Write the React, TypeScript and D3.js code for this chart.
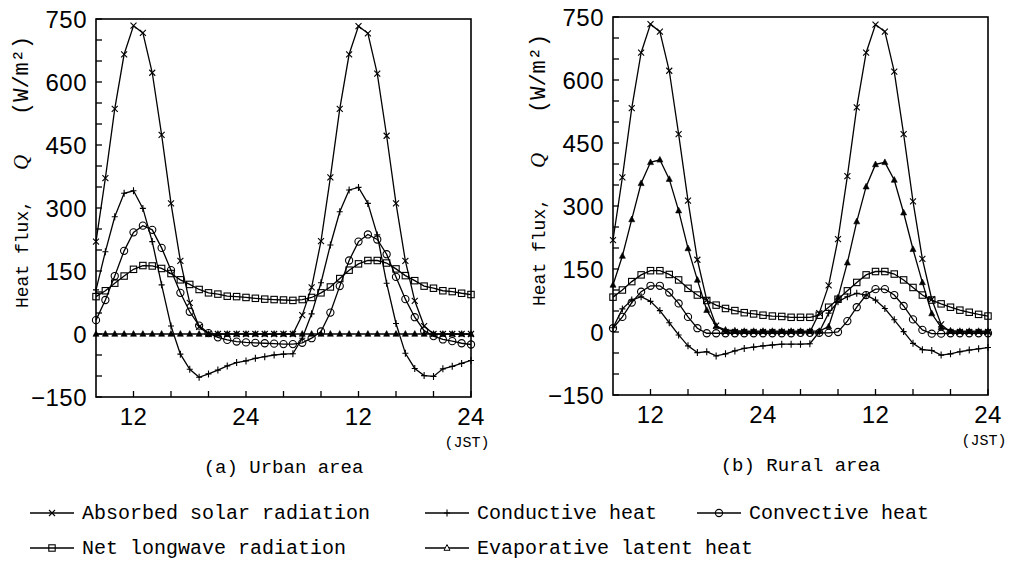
import React from 'react';
import * as d3 from 'd3';

// hourly samples, 8 h of day 1 to 24 h of day 2 (JST)
const hours = [
  8, 9, 10, 11, 12, 13, 14, 15, 16, 17, 18, 19, 20, 21, 22, 23, 24, 25, 26, 27,
  28, 29, 30, 31, 32, 33, 34, 35, 36, 37, 38, 39, 40, 41, 42, 43, 44, 45, 46, 47, 48,
];
const xTicks = [12, 16, 20, 24, 28, 32, 36, 40, 44, 48];
const xTickLabels: Record<number, string> = { 12: '12', 24: '24', 36: '12', 48: '24' };
const yTicks = [-150, -100, -50, 0, 50, 100, 150, 200, 250, 300, 350, 400, 450, 500, 550, 600, 650, 700, 750];
const yTickLabels = [-150, 0, 150, 300, 450, 600, 750];

// (a) urban area
const urbanSolar = [
  220, 371, 536, 666, 734, 717, 622, 474, 311, 174, 74, 17, 0, 0, 0, 0, 0, 0, 0, 0,
  0, 0, 45, 111, 221, 373, 536, 666, 733, 716, 620, 472, 311, 174, 79, 19, 0, 0, 0, 0, 0,
];
const urbanConductive = [
  105, 196, 279, 335, 341, 299, 220, 117, 19, -48, -84, -103, -95, -86, -76, -68, -64, -58, -54, -50,
  -48, -47, -10, 48, 122, 212, 291, 343, 349, 311, 236, 121, 25, -46, -82, -99, -101, -83, -77, -70, -63,
];
const urbanConvective = [
  33, 81, 138, 198, 242, 258, 248, 205, 152, 98, 53, 20, 2, -8, -14, -18, -20, -21, -22, -23,
  -24, -24, -21, -10, 6, 51, 114, 175, 220, 237, 225, 190, 136, 83, 40, 8, -5, -13, -17, -22, -25,
];
const urbanLongwave = [
  89, 103, 121, 138, 154, 163, 162, 156, 144, 129, 118, 106, 98, 95, 90, 89, 87, 85, 83, 82,
  81, 80, 82, 87, 98, 112, 132, 152, 167, 175, 175, 169, 155, 139, 127, 114, 109, 103, 101, 97, 94,
];
const urbanEvaporative = [
  0, 0, 0, 0, 0, 0, 0, 0, 0, 0, 0, 0, 0, 0, 0, 0, 0, 0, 0, 0,
  0, 0, 0, 0, 0, 0, 0, 0, 0, 0, 0, 0, 0, 0, 0, 0, 0, 0, 0, 0, 0,
];

// (b) rural area
const ruralSolar = [
  219, 368, 533, 665, 733, 715, 622, 471, 313, 172, 76, 15, 0, 0, 0, 0, 0, 0, 0, 0,
  0, 0, 45, 111, 221, 371, 535, 665, 732, 715, 620, 471, 311, 174, 78, 18, 0, 0, 0, 0, 0,
];
const ruralConductive = [
  10, 55, 76, 84, 73, 51, 22, -7, -33, -49, -47, -57, -52, -45, -39, -36, -33, -31, -29, -29,
  -29, -28, 0, 45, 72, 84, 92, 88, 76, 56, 29, 1, -27, -42, -44, -55, -52, -47, -43, -40, -37,
];
const ruralConvective = [
  9, 36, 70, 96, 110, 110, 94, 68, 36, 9, -3, -3, -3, -3, -3, -3, -3, -3, -3, -3,
  -2, -2, -2, -2, 0, 26, 59, 88, 102, 102, 88, 62, 30, 5, -4, -4, -3, -3, -3, -3, -3,
];
const ruralLongwave = [
  83, 100, 120, 136, 146, 146, 137, 124, 104, 88, 75, 64, 56, 51, 46, 43, 40, 38, 37, 35,
  35, 35, 40, 59, 78, 98, 118, 136, 144, 144, 138, 124, 106, 88, 76, 67, 59, 52, 47, 42, 38,
];
const ruralEvaporative = [
  112, 181, 268, 354, 404, 410, 364, 289, 199, 124, 52, 14, 5, 3, 2, 2, 2, 2, 2, 2,
  2, 2, 2, 13, 82, 165, 263, 346, 399, 404, 362, 284, 197, 118, 44, 11, 3, 2, 2, 2, 2,
];

type MarkerType = 'cross' | 'plus' | 'circle' | 'square' | 'triangle';

const seriesInfo: { key: string; label: string; marker: MarkerType }[] = [
  { key: 'solar', label: 'Absorbed solar radiation', marker: 'cross' },
  { key: 'conductive', label: 'Conductive heat', marker: 'plus' },
  { key: 'convective', label: 'Convective heat', marker: 'circle' },
  { key: 'longwave', label: 'Net longwave radiation', marker: 'square' },
  { key: 'evaporative', label: 'Evaporative latent heat', marker: 'triangle' },
];

const urban: Record<string, number[]> = {
  solar: urbanSolar, conductive: urbanConductive, convective: urbanConvective,
  longwave: urbanLongwave, evaporative: urbanEvaporative,
};
const rural: Record<string, number[]> = {
  solar: ruralSolar, conductive: ruralConductive, convective: ruralConvective,
  longwave: ruralLongwave, evaporative: ruralEvaporative,
};

const MONO = '"Liberation Mono", "DejaVu Sans Mono", monospace';
const SANS = '"Liberation Sans", Arial, sans-serif';
const W = 375;
const H = 378;

function Marker({ type, cx, cy, hollow }: { type: MarkerType; cx: number; cy: number; hollow?: boolean }) {
  const s = { stroke: '#000', strokeWidth: 1.1 };
  switch (type) {
    case 'cross':
      return <path d={`M${cx - 3},${cy - 3}L${cx + 3},${cy + 3}M${cx - 3},${cy + 3}L${cx + 3},${cy - 3}`} fill="none" {...s} />;
    case 'plus':
      return <path d={`M${cx},${cy - 3.5}V${cy + 3.5}M${cx - 3},${cy}H${cx + 3}`} fill="none" {...s} />;
    case 'circle':
      return <circle cx={cx} cy={cy} r={3.6} fill="none" {...s} />;
    case 'square':
      return <rect x={cx - 3.2} y={cy - 3.2} width={6.4} height={6.4} fill="none" {...s} />;
    default:
      return (
        <path d={`M${cx},${cy - 3.4}L${cx + 3},${cy + 2.3}L${cx - 3},${cy + 2.3}Z`}
          fill={hollow ? '#fff' : '#000'} stroke="#000" strokeWidth={hollow ? 1 : 0.6} />
      );
  }
}

function Panel({ left, top, data, caption }: { left: number; top: number; data: Record<string, number[]>; caption: string }) {
  const x = d3.scaleLinear().domain([8, 48]).range([0, W]);
  const y = d3.scaleLinear().domain([-150, 750]).range([H, 0]);
  const line = d3.line<number>().x((_, i) => x(hours[i])).y(d => y(d));

  return (
    <g transform={`translate(${left},${top})`}>
      {/* series lines first, markers on top */}
      {seriesInfo.map(s => (
        <path key={s.key} d={line(data[s.key]) || ''} fill="none" stroke="#000" strokeWidth={1.3} />
      ))}
      {seriesInfo.map(s => (
        <g key={s.key}>
          {data[s.key].map((v, i) => <Marker key={i} type={s.marker} cx={x(hours[i])} cy={y(v)} />)}
        </g>
      ))}

      <rect x={0} y={0} width={W} height={H} fill="none" stroke="#000" strokeWidth={1.6} />
      {yTicks.map(t => (
        <line key={t} x1={0} x2={6} y1={y(t)} y2={y(t)} stroke="#000" strokeWidth={1.3} />
      ))}
      {xTicks.map(t => (
        <line key={t} x1={x(t)} x2={x(t)} y1={H} y2={H - 6} stroke="#000" strokeWidth={1.3} />
      ))}
      {yTickLabels.map(t => (
        <text key={t} x={-9} y={y(t)} dy="0.36em" textAnchor="end" fontFamily={SANS} fontSize={24} letterSpacing={0.5}>
          {t < 0 ? `\u2212${-t}` : t}
        </text>
      ))}
      {xTicks.filter(t => xTickLabels[t]).map(t => (
        <text key={t} x={x(t)} y={H + 28} textAnchor="middle" fontFamily={SANS} fontSize={24} letterSpacing={0.5}>
          {xTickLabels[t]}
        </text>
      ))}
      <text x={W - 4} y={H + 50} textAnchor="middle" fontFamily={MONO} fontSize={15}>(JST)</text>
      <text x={W / 2} y={H + 76} textAnchor="middle" fontFamily={MONO} fontSize={19}>{caption}</text>

      {/* y axis title */}
      <g transform={`translate(${-68},${H - 89}) rotate(-90)`}>
        <text x={0} y={0} fontFamily={MONO} fontSize={18}>Heat flux,</text>
        <text x={138} y={0} fontFamily='"Liberation Serif", serif' fontStyle="italic" fontSize={21}>Q</text>
        <text x={193} y={0} fontFamily={MONO} fontSize={22}>(W/m²)</text>
      </g>
    </g>
  );
}

const legendRows = [
  [{ key: 'solar', x: 30 }, { key: 'conductive', x: 425 }, { key: 'convective', x: 697 }],
  [{ key: 'longwave', x: 30 }, { key: 'evaporative', x: 425 }],
];

export default function App() {
  return (
    <svg width={1012} height={564} style={{ position: 'absolute', left: 0, top: 0, background: '#fff' }}>
      <Panel left={96} top={19} data={urban} caption="(a) Urban area" />
      <Panel left={613} top={17} data={rural} caption="(b) Rural area" />
      {legendRows.map((row, r) => (
        <g key={r} transform={`translate(0,${513 + r * 35})`}>
          {row.map(item => {
            const info = seriesInfo.find(s => s.key === item.key)!;
            return (
              <g key={item.key}>
                <line x1={item.x} x2={item.x + 44} y1={0} y2={0} stroke="#000" strokeWidth={1.3} />
                <Marker type={info.marker} cx={item.x + 22} cy={0} hollow />
                <text x={item.x + 52} y={6} fontFamily={MONO} fontSize={20}>{info.label}</text>
              </g>
            );
          })}
        </g>
      ))}
    </svg>
  );
}
